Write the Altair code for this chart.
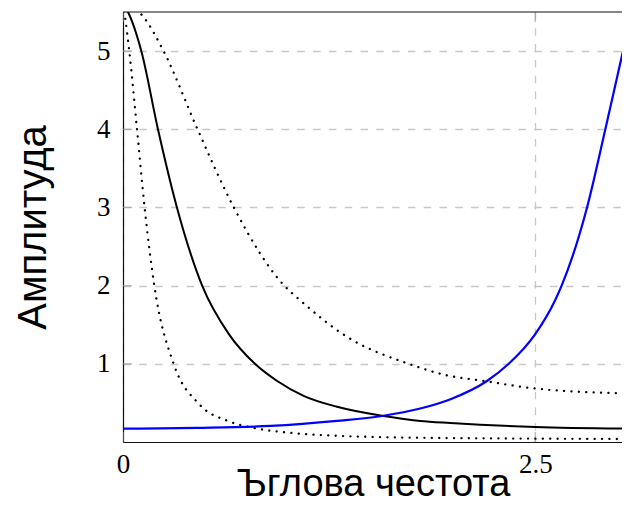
import altair as alt
import pandas as pd

# ---- data ----
blue_x = [0, 0.45, 0.894, 1.298, 1.571, 1.803, 1.986, 2.207, 2.339, 2.5, 2.622, 2.66, 2.814, 2.925, 3.032, 3.076]
blue_y = [0.17, 0.18, 0.205, 0.27, 0.333, 0.428, 0.547, 0.78, 1.0, 1.38, 1.82, 2.0, 3.0, 4.0, 5.0, 5.41]

black_x = [0, 0.03, 0.111, 0.212, 0.327, 0.48, 0.642, 0.80, 0.935, 1.095, 1.298, 1.571, 1.803, 1.986, 2.5, 3.076]
black_y = [5.6, 5.5, 5.0, 4.0, 3.0, 2.0, 1.38, 1.0, 0.78, 0.59, 0.45, 0.335, 0.27, 0.244, 0.192, 0.171]

inner_x = [0, 0.014, 0.038, 0.085, 0.131, 0.19, 0.307, 0.459, 0.641, 0.782, 0.924, 1.5, 1.986, 2.5, 3.076]
inner_y = [5.6, 5.41, 5.0, 4.0, 3.0, 2.0, 1.0, 0.49, 0.265, 0.184, 0.137, 0.065, 0.05, 0.043, 0.038]

outer_x = [0, 0.119, 0.246, 0.452, 0.672, 0.978, 1.076, 1.358, 1.732, 1.95, 2.207, 2.5, 3.076]
outer_y = [5.62, 5.45, 5.0, 4.0, 3.0, 2.0, 1.81, 1.346, 1.0, 0.86, 0.775, 0.684, 0.62]

x_ticks = [0, 2.5]
y_ticks = [1, 2, 3, 4, 5]
x_domain = [0, 3.026]
y_domain = [0, 5.5]

x_title = "Ъглова честота"
y_title = "Амплитуда"

# ---- chart ----
xs = alt.Scale(domain=x_domain, nice=False, zero=False)
ys = alt.Scale(domain=y_domain, nice=False, zero=False)

FRAME = "#111111"
TICK = "#9a9a9a"

common = dict(grid=True, gridColor="#c8c8c8", gridDash=[7.5, 8.3], gridWidth=1.3,
              ticks=False, domain=True, domainColor=FRAME, domainWidth=1.2,
              labelFont="Liberation Serif", labelFontSize=27, labelColor="black",
              titleFont="Liberation Sans", titleFontWeight="normal", titleColor="black")

x_axis = alt.Axis(values=x_ticks, title=x_title, format=".1~f", labelFlush=False,
                  labelPadding=9, titleFontSize=38, titleX=250, titleY=53,
                  titleAlign="center", titleBaseline="alphabetic", **common)
y_axis = alt.Axis(values=y_ticks, title=y_title, format="d", labelPadding=13,
                  titleFontSize=40, titleAngle=-90, titleX=-78, titleY=215,
                  titleAlign="center", titleBaseline="alphabetic", **common)


def line(xv, yv, **mark):
    df = pd.DataFrame({"x": xv, "y": yv})
    return alt.Chart(df).mark_line(clip=True, interpolate="monotone", **mark).encode(
        x=alt.X("x:Q", scale=xs, axis=x_axis),
        y=alt.Y("y:Q", scale=ys, axis=y_axis),
    )


dots = dict(color="black", strokeWidth=2.3, strokeDash=[0.1, 7.3], strokeCap="round")

# inward tick marks (the outer half is clipped away by the plot area)
y_tick_marks = alt.Chart(pd.DataFrame({"y": y_ticks})).mark_tick(
    orient="horizontal", size=18, thickness=1.3, color=TICK, clip=True
).encode(x=alt.datum(x_domain[0]), y=alt.Y("y:Q", scale=ys, axis=y_axis))

x_tick_df = pd.DataFrame({"x": x_ticks * 2,
                          "y": [y_domain[0]] * len(x_ticks) + [y_domain[1]] * len(x_ticks)})
x_tick_marks = alt.Chart(x_tick_df).mark_tick(
    orient="vertical", size=20, thickness=1.3, color=TICK, clip=True
).encode(x=alt.X("x:Q", scale=xs, axis=x_axis), y=alt.Y("y:Q", scale=ys, axis=y_axis))

# top edge of the frame (the right edge lies outside the visible page)
top_edge = alt.Chart(pd.DataFrame({"y": [y_domain[1]]})).mark_rule(
    color=FRAME, strokeWidth=1.2
).encode(y=alt.Y("y:Q", scale=ys, axis=y_axis))

chart = alt.layer(
    y_tick_marks,
    x_tick_marks,
    line(outer_x, outer_y, **dots),
    line(inner_x, inner_y, **dots),
    line(black_x, black_y, color="black", strokeWidth=2),
    line(blue_x, blue_y, color="#0000ff", strokeWidth=2.2),
    top_edge,
).properties(
    width=499,
    height=430,
    autosize=alt.AutoSizeParams(type="none"),
    padding={"left": 115, "top": 4, "right": 0, "bottom": 62},
).configure_view(
    stroke=None
)

chart.save("out.html", embed_options={"renderer": "svg", "actions": False})
